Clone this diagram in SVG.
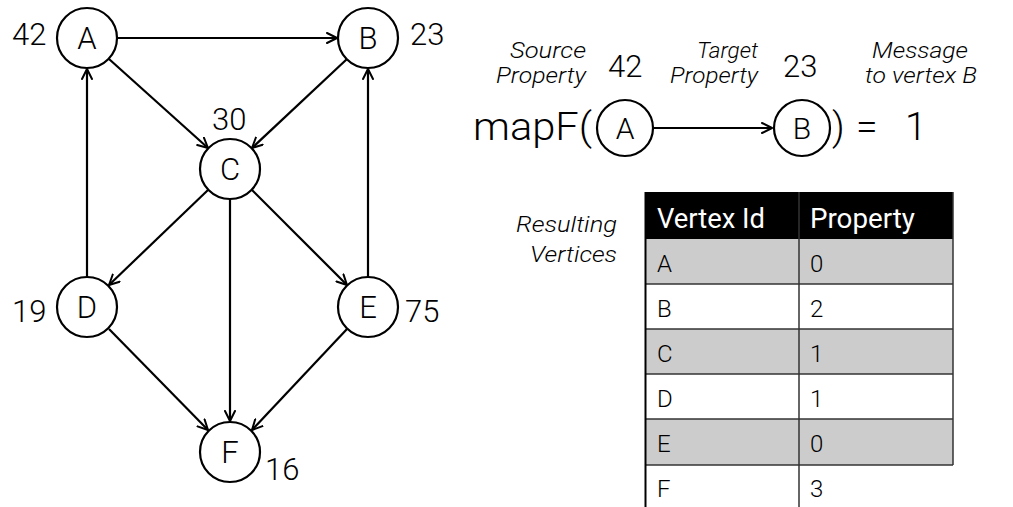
<svg xmlns="http://www.w3.org/2000/svg" width="1013" height="507" viewBox="0 0 1013 507">
<defs>
<marker id="arr" viewBox="0 0 12 12" refX="11" refY="6" markerWidth="12" markerHeight="12" markerUnits="userSpaceOnUse" orient="auto">
<path d="M1,1 L11,6 L1,11" fill="none" stroke="#000" stroke-width="2" stroke-linecap="round" stroke-linejoin="round"/>
</marker>
</defs>
<style>
.n{fill:#fff;stroke:#000;stroke-width:2.2}
.t{font-family:Roboto,"Liberation Sans",sans-serif;font-weight:300;fill:#000}
.nl{font-size:31px;text-anchor:middle}
.v{font-size:31px}
.e{fill:none;stroke:#000;stroke-width:2.2;marker-end:url(#arr)}
.i{font-family:Roboto,"Liberation Sans",sans-serif;font-weight:300;font-style:italic;font-size:22px;fill:#000}
.cell{font-family:Roboto,"Liberation Sans",sans-serif;font-weight:300;font-size:24px;fill:#000}
.hd{font-family:Roboto,"Liberation Sans",sans-serif;font-weight:400;font-size:27px;fill:#fff}
.g{fill:#cccccc}
.rl{stroke:#333;stroke-width:1.5}
</style>
<rect width="1013" height="507" fill="#fff"/>
<g id="edges">
<line class="e" x1="118" y1="38" x2="337" y2="38"/>
<line class="e" x1="109" y1="59" x2="208" y2="148"/>
<line class="e" x1="347" y1="59" x2="252" y2="148"/>
<line class="e" x1="87" y1="277" x2="87" y2="69"/>
<line class="e" x1="368" y1="277" x2="368" y2="69"/>
<line class="e" x1="208" y1="190" x2="109" y2="285"/>
<line class="e" x1="252" y1="190" x2="347" y2="285"/>
<line class="e" x1="230" y1="199" x2="230" y2="421"/>
<line class="e" x1="109" y1="329" x2="208" y2="430"/>
<line class="e" x1="347" y1="329" x2="252" y2="430"/>
<line class="e" x1="653" y1="128" x2="772" y2="128"/>
</g>
<g id="A"><circle class="n" cx="87" cy="38" r="30"/><text class="t nl" x="87" y="49">A</text><text class="t v" x="12" y="45">42</text></g>
<g id="B"><circle class="n" cx="368" cy="38" r="30"/><text class="t nl" x="368" y="49">B</text><text class="t v" x="410" y="45">23</text></g>
<g id="C"><circle class="n" cx="230" cy="169" r="30"/><text class="t nl" x="230" y="180">C</text><text class="t v" x="212" y="130">30</text></g>
<g id="D"><circle class="n" cx="87" cy="307" r="30"/><text class="t nl" x="87" y="318">D</text><text class="t v" x="12" y="322">19</text></g>
<g id="E"><circle class="n" cx="368" cy="307" r="30"/><text class="t nl" x="368" y="318">E</text><text class="t v" x="405" y="322">75</text></g>
<g id="F"><circle class="n" cx="230" cy="452" r="30"/><text class="t nl" x="230" y="463">F</text><text class="t v" x="265" y="480">16</text></g>
<g id="mapf">
<text class="i" x="510" y="58" textLength="76" lengthAdjust="spacingAndGlyphs">Source</text>
<text class="i" x="496" y="83" textLength="90" lengthAdjust="spacingAndGlyphs">Property</text>
<text class="t v" x="608" y="77">42</text>
<text class="i" x="697" y="58" textLength="61" lengthAdjust="spacingAndGlyphs">Target</text>
<text class="i" x="670" y="83" textLength="88" lengthAdjust="spacingAndGlyphs">Property</text>
<text class="t v" x="783" y="77">23</text>
<text class="i" x="872" y="58" textLength="96" lengthAdjust="spacingAndGlyphs">Message</text>
<text class="i" x="865" y="83" textLength="112" lengthAdjust="spacingAndGlyphs">to vertex B</text>
<text class="t" x="473" y="140" font-size="39" textLength="119" lengthAdjust="spacingAndGlyphs">mapF(</text>
<circle class="n" cx="625" cy="128" r="28"/>
<text class="t" x="625" y="139" font-size="30" text-anchor="middle">A</text>
<circle class="n" cx="802" cy="128" r="28"/>
<text class="t" x="802" y="139" font-size="30" text-anchor="middle">B</text>
<text class="t" x="832" y="140" font-size="39">)</text>
<text class="t" x="856" y="140" font-size="39">=</text>
<text class="t" x="905" y="140" font-size="39">1</text>
</g>
<g id="table">
<text class="i" x="516" y="232" textLength="101" lengthAdjust="spacingAndGlyphs">Resulting</text>
<text class="i" x="530" y="262" textLength="87" lengthAdjust="spacingAndGlyphs">Vertices</text>
<rect x="645" y="192" width="308" height="47" fill="#000"/>
<rect class="g" x="645" y="239" width="308" height="45"/>
<rect class="g" x="645" y="329" width="308" height="45"/>
<rect class="g" x="645" y="419" width="308" height="46"/>
<line class="rl" x1="645" y1="284" x2="953" y2="284"/>
<line class="rl" x1="645" y1="329" x2="953" y2="329"/>
<line class="rl" x1="645" y1="374" x2="953" y2="374"/>
<line class="rl" x1="645" y1="419" x2="953" y2="419"/>
<line class="rl" x1="645" y1="465" x2="953" y2="465"/>
<line class="rl" x1="799" y1="192" x2="799" y2="507"/>
<line class="rl" x1="953" y1="192" x2="953" y2="465"/>
<line x1="645.5" y1="192" x2="645.5" y2="507" stroke="#000" stroke-width="2"/>
<text class="hd" x="657" y="228" textLength="108" lengthAdjust="spacingAndGlyphs">Vertex Id</text>
<text class="hd" x="810" y="228" textLength="105" lengthAdjust="spacingAndGlyphs">Property</text>
<text class="cell" x="657" y="272">A</text><text class="cell" x="810" y="272">0</text>
<text class="cell" x="657" y="317">B</text><text class="cell" x="810" y="317">2</text>
<text class="cell" x="657" y="362">C</text><text class="cell" x="810" y="362">1</text>
<text class="cell" x="657" y="407">D</text><text class="cell" x="810" y="407">1</text>
<text class="cell" x="657" y="452">E</text><text class="cell" x="810" y="452">0</text>
<text class="cell" x="657" y="497">F</text><text class="cell" x="810" y="497">3</text>
</g>
</svg>
